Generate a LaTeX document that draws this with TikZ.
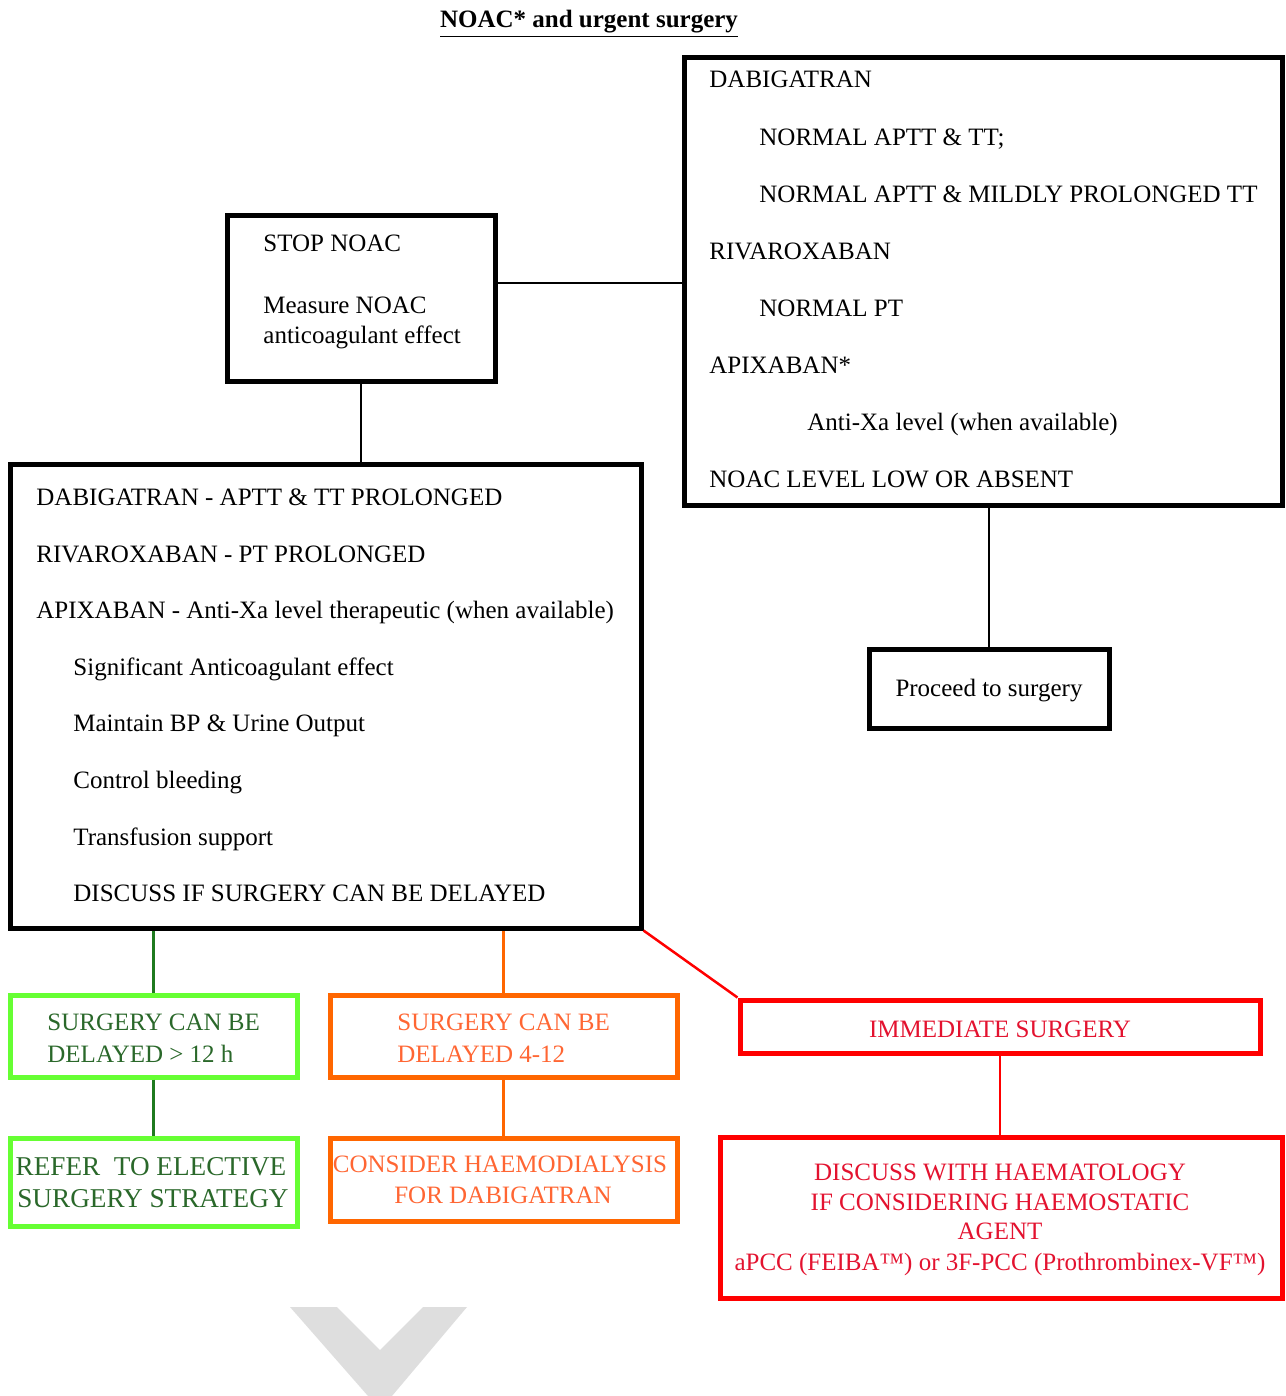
\documentclass[tikz,border=0pt]{standalone}
\usepackage{fontspec}
\setmainfont{Liberation Serif}
\usetikzlibrary{fit}
\definecolor{gbord}{HTML}{66FF33}
\definecolor{gline}{HTML}{1F7A1F}
\definecolor{gtext}{HTML}{2A682A}
\definecolor{obord}{HTML}{FF6600}
\definecolor{otext}{HTML}{FF6633}
\definecolor{rbord}{HTML}{FF0000}
\definecolor{rtext}{HTML}{E3122F}
\definecolor{chev}{HTML}{DEDEDE}
\begin{document}
\begin{tikzpicture}[x=0.5pt,y=-0.5pt,
  box/.style={draw, line width=2.5pt, inner sep=0pt},
  txt/.style={inner sep=0pt, anchor=base west, font=\fontsize{12.5}{15}\selectfont},
  ctxt/.style={inner sep=0pt, anchor=base, font=\fontsize{12.5}{15}\selectfont},
  conn/.style={line width=1.25pt}]
\useasboundingbox (0,0) rectangle (1285,1396);
% watermark chevron
\fill[chev] (290,1307) -- (337,1307) -- (380,1350) -- (423,1307) -- (467,1307) -- (392,1396) -- (368,1396) -- cycle;
% title
\node[ctxt, font=\bfseries\fontsize{12.5}{15}\selectfont] (title) at (589,28) {\underline{NOAC* and urgent surgery}};
% boxes
\node[box, fit={(227,216) (495,381)}] (stop) {};
\node[box, fit={(684,58) (1282,505)}] (dab) {};
\node[box, fit={(10,464) (641,928)}] (big) {};
\node[box, fit={(869,649) (1109,728)}] (proc) {};
\node[box, draw=gbord, fit={(10,995) (297,1077)}] (g1) {};
\node[box, draw=gbord, fit={(10,1138) (297,1226)}] (g2) {};
\node[box, draw=obord, fit={(330,995) (677,1077)}] (o1) {};
\node[box, draw=obord, fit={(330,1138) (677,1221)}] (o2) {};
\node[box, draw=rbord, fit={(740,1000) (1260,1053)}] (r1) {};
\node[box, draw=rbord, fit={(720,1137) (1282,1298)}] (r2) {};
% connectors
\coordinate (hl) at (590,283);
\draw[conn] (stop.east |- hl) -- (dab.west |- hl);
\draw[conn] (stop.south) -- (stop.south |- big.north);
\draw[conn] (proc.north) -- (proc.north |- dab.south);
\draw[conn, gline] (g1.north) -- (g1.north |- big.south);
\draw[conn, gline] (g1.south) -- (g2.north);
\draw[conn, obord] (o1.north) -- (o1.north |- big.south);
\draw[conn, obord] (o1.south) -- (o2.north);
\draw[conn, rbord] (big.south east) -- (r1.north west);
\draw[conn, rbord] (r1.south) -- (r1.south |- r2.north);
% STOP box text
\node[txt] (s1) at (263,251) {STOP NOAC};
\node[txt] (s2) at (263,313) {Measure NOAC};
\node[txt] (s3) at (263,343) {anticoagulant effect};
% right box text
\node[txt] (d1) at (709,88) {DABIGATRAN};
\node[txt] (d2) at (759,146) {NORMAL APTT \& TT;};
\node[txt] (d3) at (759,203) {NORMAL APTT \& MILDLY PROLONGED TT};
\node[txt] (d4) at (709,259) {RIVAROXABAN};
\node[txt] (d5) at (759,316) {NORMAL PT};
\node[txt] (d6) at (709,373) {APIXABAN*};
\node[txt] (d7) at (807,430) {Anti-Xa level (when available)};
\node[txt] (d8) at (709,487) {NOAC LEVEL LOW OR ABSENT};
% big box text
\node[txt] (b1) at (36,505) {DABIGATRAN - APTT \& TT PROLONGED};
\node[txt] (b2) at (36,562) {RIVAROXABAN - PT PROLONGED};
\node[txt] (b3) at (36,618) {APIXABAN - Anti-Xa level therapeutic (when available)};
\node[txt] (b4) at (73,675) {Significant Anticoagulant effect};
\node[txt] (b5) at (73,731) {Maintain BP \& Urine Output};
\node[txt] (b6) at (73,788) {Control bleeding};
\node[txt] (b7) at (73,845) {Transfusion support};
\node[txt] (b8) at (73,901) {DISCUSS IF SURGERY CAN BE DELAYED};
% proceed
\node[ctxt] (p1) at (989,696) {Proceed to surgery};
% green
\node[txt, gtext] (g1a) at (47,1030) {SURGERY CAN BE};
\node[txt, gtext] (g1b) at (47,1062) {DELAYED > 12 h};
\node[ctxt, gtext, font=\fontsize{13.6}{16}\selectfont] (g2a) at (151,1175) {REFER\ \ TO ELECTIVE};
\node[ctxt, gtext, font=\fontsize{13.6}{16}\selectfont] (g2b) at (153,1207) {SURGERY STRATEGY};
% orange
\node[txt, otext] (o1a) at (397,1030) {SURGERY CAN BE};
\node[txt, otext] (o1b) at (397,1062) {DELAYED 4-12};
\node[ctxt, otext] (o2a) at (500,1172) {CONSIDER HAEMODIALYSIS};
\node[ctxt, otext] (o2b) at (503,1203) {FOR DABIGATRAN};
% red
\node[ctxt, rtext] (r1a) at (1000,1037) {IMMEDIATE SURGERY};
\node[ctxt, rtext] (r2a) at (1000,1180) {DISCUSS WITH HAEMATOLOGY};
\node[ctxt, rtext] (r2b) at (1000,1210) {IF CONSIDERING HAEMOSTATIC};
\node[ctxt, rtext] (r2c) at (1000,1239) {AGENT};
\node[ctxt, rtext] (r2d) at (1000,1270) {aPCC (FEIBA™) or 3F-PCC (Prothrombinex-VF™)};
\end{tikzpicture}
\end{document}
